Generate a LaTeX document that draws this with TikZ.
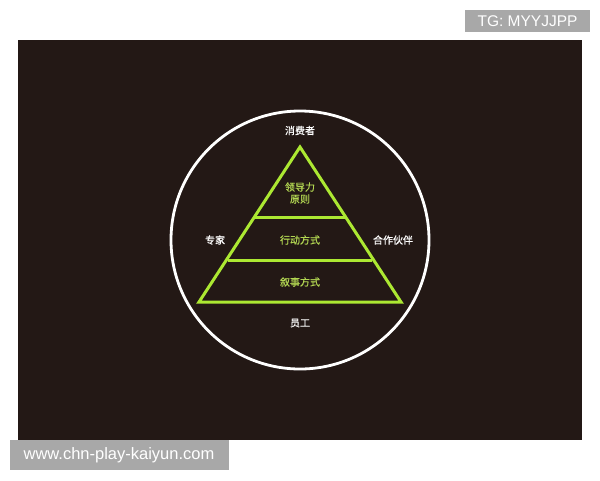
\documentclass[tikz,border=0pt]{standalone}
\usepackage{fontspec}
\setmainfont{Liberation Sans}
\newfontfamily\cjk[UprightFeatures={FakeBold=0.6}]{Noto Sans CJK SC}
\definecolor{bgdark}{RGB}{35,24,21}
\definecolor{lime}{RGB}{172,232,50}
\definecolor{limetext}{RGB}{178,214,82}
\definecolor{wmgray}{RGB}{168,168,168}
\tikzset{
  wlabel/.style={text=white, font=\cjk\fontsize{10}{11}\selectfont, inner sep=0pt},
  glabel/.style={text=limetext, font=\cjk\fontsize{10}{12}\selectfont, inner sep=0pt, align=center},
  pyr/.style={draw=lime, line width=3pt, line join=miter},
  wmbox/.style={fill=wmgray, text=white, inner sep=0pt, font=\fontsize{15.5}{16}\selectfont}
}
\begin{document}
\begin{tikzpicture}[x=1pt,y=-1pt]
\useasboundingbox (0,0) rectangle (600,480);
\fill[white] (0,0) rectangle (600,480);
\fill[bgdark] (18,40) rectangle (582,440);
% circle
\draw[white, line width=2.8pt] (300,240) circle (129);
% pyramid
\coordinate (apex) at (300,147);
\coordinate (bl) at (199,302);
\coordinate (br) at (401,302);
\draw[pyr] (apex) -- (br) -- (bl) -- cycle;
\coordinate (l1a) at (255.3,217.5);
\coordinate (l1b) at (344.7,217.5);
\coordinate (l2a) at (228.3,260);
\coordinate (l2b) at (371.7,260);
\draw[draw=lime, line width=3pt] (l1a) -- (l1b);
\draw[draw=lime, line width=3pt] (l2a) -- (l2b);
% labels
\node[wlabel] (consumer) at (300,130.5) {消费者};
\node[wlabel] (staff) at (300,323) {员工};
\node[wlabel] (expert) at (215,240) {专家};
\node[wlabel] (partner) at (393,240) {合作伙伴};
\node[glabel] (lead) at (300,193) {领导力\\原则};
\node[glabel] (act) at (300,240) {行动方式};
\node[glabel] (story) at (300,282) {叙事方式};
% watermarks
\fill[wmgray] (465,10) rectangle (590,32);
\node[wmbox, text=white, fill=none] (tg) at (527.5,21.5) {TG: MYYJJPP};
\fill[wmgray] (10,440) rectangle (229,470);
\node[wmbox, text=white, fill=none, font=\fontsize{16.5}{17}\selectfont] (web) at (119,455.5) {www.chn-play-kaiyun.com};
\end{tikzpicture}
\end{document}
